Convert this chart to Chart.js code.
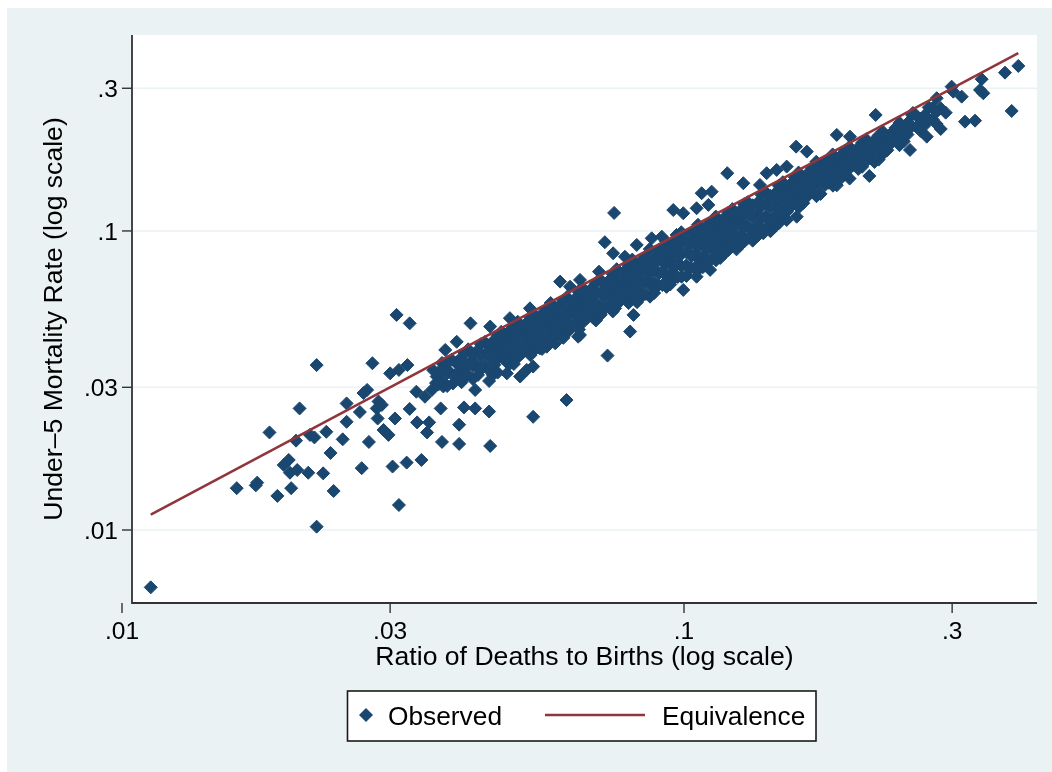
<!DOCTYPE html>
<html><head><meta charset="utf-8">
<script src="https://cdn.jsdelivr.net/npm/chart.js@4.4.1/dist/chart.umd.min.js"></script>
<style>html,body{margin:0;padding:0;background:#fff}#wrap{width:1052px;height:772px}</style>
</head><body><div id="wrap"><canvas id="c" width="1052" height="772"></canvas></div>
<script>
// ---- axis ticks ----
const xTickValues = [0.01, 0.03, 0.1, 0.3];
const xTickLabels = ['.01', '.03', '.1', '.3'];
const yTickValues = [0.01, 0.03, 0.1, 0.3];
const yTickLabels = ['.01', '.03', '.1', '.3'];
const xAxisRange = [0.010418, 0.42473];
const yAxisRange = [0.00570, 0.45212];
const xTitle = 'Ratio of Deaths to Births (log scale)';
const yTitle = 'Under\u20135 Mortality Rate (log scale)';
const legendLabels = ['Observed', 'Equivalence'];

// ---- observed points [ratio of deaths to births, under-5 mortality rate] ----
const observedLowTail = [
 [0.01125,0.00643],[0.0222,0.0356],[0.0207,0.0255],[0.0183,0.0212],[0.0204,0.0199],
 [0.0216,0.0208],[0.0220,0.0204],[0.0231,0.0213],[0.0251,0.0265],[0.0251,0.0230],
 [0.0247,0.0201],[0.0235,0.0181],[0.0198,0.01715],[0.0194,0.0165],[0.0199,0.01554],
 [0.0205,0.01587],[0.02145,0.01554],[0.0228,0.01547],[0.0174,0.0144],[0.0173,0.0141],
 [0.0160,0.0138],[0.0189,0.0130],[0.0200,0.0138],[0.0238,0.0135],[0.0222,0.01026],
 [0.0308,0.0524],[0.0325,0.0491],[0.0279,0.0361],[0.0300,0.0334],[0.0311,0.0343],
 [0.0322,0.0356],[0.0273,0.0294],[0.0269,0.0287],[0.0265,0.0248],
 [0.0286,0.0269],[0.0284,0.0255],[0.0290,0.0262],[0.0285,0.0236],[0.0306,0.0236],
 [0.0292,0.0216],[0.0298,0.0208],[0.0275,0.0197],[0.0325,0.0254],[0.0335,0.0229],
 [0.0352,0.0229],[0.0349,0.0212],[0.0267,0.0161],[0.0303,0.0163],[0.0321,0.0168],
 [0.0341,0.01715],[0.0334,0.0290],[0.0346,0.0279],[0.0356,0.0294],[0.0311,0.01212]
];
const observedMidOutliers = [
 [0.0369,0.0255],[0.0371,0.0197],[0.0398,0.0225],[0.0398,0.0194],[0.0406,0.0257],
 [0.0425,0.0255],[0.0450,0.0249],[0.0452,0.0191],[0.0425,0.0294],[0.0539,0.0239],
 [0.0376,0.0400],[0.0394,0.0426],[0.0363,0.0326],[0.0373,0.0302],[0.0417,0.0491],
 [0.0452,0.0479],[0.0490,0.0511],[0.0532,0.0551],[0.0434,0.0343],[0.0411,0.0352],
 [0.0394,0.0361],[0.0484,0.0334],[0.0511,0.0326],
 [0.0723,0.0917],[0.0748,0.0842],[0.0824,0.0898],[0.0876,0.0945],[0.0913,0.0957],
 [0.0970,0.0970],[0.0785,0.0820],[0.0706,0.0731],[0.0653,0.0686],[0.0602,0.0677],
 [0.0627,0.0651],[0.0754,0.0551],[0.0813,0.0524],[0.0802,0.0461],
 [0.0653,0.0449],[0.0648,0.0443],[0.0731,0.0383],[0.0618,0.0272],[0.0539,0.0352],
 [0.0525,0.0343],[0.0870,0.0603],[0.0829,0.0588],[0.0932,0.0651],[0.0957,0.0695],
 [0.0690,0.0511],[0.0590,0.0421],[0.0554,0.0405],[0.0751,0.1149]
];
const observedBand = [
 [0.0358,0.0342],[0.0362,0.0310],
 [0.0371,0.0362],[0.0375,0.0347],[0.0372,0.0313],
 [0.0386,0.0371],[0.0384,0.0336],[0.0388,0.0309],
 [0.0401,0.0376],[0.0398,0.0340],[0.0402,0.0312],
 [0.0413,0.0402],[0.0416,0.0364],[0.0412,0.0331],
 [0.0429,0.0398],[0.0426,0.0360],[0.0430,0.0330],
 [0.0442,0.0425],[0.0445,0.0390],[0.0441,0.0354],
 [0.0459,0.0431],[0.0456,0.0394],[0.0460,0.0357],[0.0457,0.0330],
 [0.0473,0.0460],[0.0476,0.0422],[0.0472,0.0384],
 [0.0491,0.0466],[0.0488,0.0426],[0.0492,0.0387],[0.0489,0.0358],
 [0.0506,0.0497],[0.0509,0.0456],[0.0505,0.0416],[0.0508,0.0380],
 [0.0525,0.0493],[0.0522,0.0451],[0.0526,0.0409],
 [0.0541,0.0526],[0.0544,0.0482],[0.0540,0.0439],[0.0543,0.0401],
 [0.0561,0.0532],[0.0558,0.0487],[0.0562,0.0442],[0.0559,0.0403],
 [0.0579,0.0574],[0.0582,0.0522],[0.0578,0.0476],[0.0581,0.0435],
 [0.0601,0.0564],[0.0598,0.0516],[0.0602,0.0468],
 [0.0619,0.0601],[0.0622,0.0546],[0.0618,0.0496],[0.0621,0.0459],
 [0.0641,0.0595],[0.0638,0.0544],[0.0642,0.0493],
 [0.0659,0.0647],[0.0662,0.0587],[0.0658,0.0535],[0.0661,0.0495],
 [0.0686,0.0644],[0.0683,0.0589],[0.0687,0.0534],
 [0.0709,0.0689],[0.0712,0.0625],[0.0708,0.0568],[0.0711,0.0525],
 [0.0736,0.0684],[0.0733,0.0625],[0.0737,0.0566],
 [0.0759,0.0745],[0.0762,0.0676],[0.0758,0.0616],[0.0761,0.0570],
 [0.0786,0.0738],[0.0783,0.0675],[0.0787,0.0612],
 [0.0809,0.0802],[0.0812,0.0729],[0.0808,0.0664],[0.0811,0.0608],
 [0.0841,0.0798],[0.0838,0.0731],[0.0842,0.0664],[0.0839,0.0605],
 [0.0869,0.0870],[0.0872,0.0792],[0.0868,0.0722],[0.0871,0.0661],
 [0.0901,0.0864],[0.0898,0.0792],[0.0902,0.0720],[0.0899,0.0657],
 [0.0929,0.0921],[0.0932,0.0846],[0.0928,0.0772],[0.0931,0.0707],[0.0930,0.0651],
 [0.0961,0.0912],[0.0958,0.0835],[0.0962,0.0758],[0.0959,0.0691],
 [0.0989,0.0990],[0.0992,0.0911],[0.0988,0.0832],[0.0991,0.0762],[0.0990,0.0703],
 [0.1031,0.0989],[0.1028,0.0906],[0.1032,0.0824],[0.1029,0.0752],
 [0.1059,0.1049],[0.1062,0.0965],[0.1058,0.0880],[0.1061,0.0806],[0.1060,0.0742],
 [0.1101,0.1045],[0.1098,0.0957],[0.1102,0.0869],[0.1099,0.0792],
 [0.1139,0.1117],[0.1142,0.1026],[0.1138,0.0935],[0.1141,0.0855],[0.1140,0.0798],
 [0.1181,0.1109],[0.1178,0.1015],[0.1182,0.0920],[0.1179,0.0838],
 [0.1219,0.1183],[0.1222,0.1086],[0.1218,0.0988],[0.1221,0.0903],
 [0.1261,0.1172],[0.1258,0.1071],[0.1262,0.0970],[0.1259,0.0895],
 [0.1299,0.1248],[0.1302,0.1144],[0.1298,0.1040],[0.1301,0.0949],
 [0.1351,0.1242],[0.1348,0.1134],[0.1352,0.1040],[0.1349,0.0959],
 [0.1399,0.1344],[0.1402,0.1232],[0.1398,0.1120],[0.1401,0.1022],
 [0.1451,0.1334],[0.1448,0.1218],[0.1452,0.1117],[0.1449,0.1030],
 [0.1499,0.1455],[0.1502,0.1335],[0.1498,0.1215],[0.1501,0.1110],
 [0.1551,0.1442],[0.1548,0.1318],[0.1552,0.1209],
 [0.1599,0.1568],[0.1602,0.1440],[0.1598,0.1312],[0.1601,0.1200],
 [0.1661,0.1560],[0.1658,0.1428],[0.1662,0.1311],
 [0.1719,0.1703],[0.1722,0.1565],[0.1718,0.1428],[0.1721,0.1307],
 [0.1781,0.1691],[0.1778,0.1549],[0.1782,0.1424],
 [0.1839,0.1803],[0.1842,0.1656],[0.1838,0.1527],[0.1841,0.1417],
 [0.1901,0.1786],[0.1898,0.1634],[0.1902,0.1501],
 [0.1969,0.1911],[0.1972,0.1753],[0.1968,0.1615],[0.1971,0.1497],
 [0.2041,0.1897],[0.2038,0.1754],[0.2042,0.1612],
 [0.2109,0.2026],[0.2112,0.1857],[0.2108,0.1709],
 [0.2181,0.2006],[0.2178,0.1853],[0.2182,0.1700],
 [0.2259,0.2147],[0.2262,0.1966],[0.2258,0.1808],
 [0.2341,0.2129],[0.2338,0.1966],
 [0.2419,0.2299],[0.2422,0.2105],[0.2418,0.1936],
 [0.2501,0.2300],[0.2498,0.2100],
 [0.2589,0.2435],[0.2592,0.2227],
 [0.2681,0.2439],[0.2678,0.2251],
 [0.2769,0.2576],[0.2772,0.2355],
 [0.2861,0.2574]
];
const observedBandInner = [
 [0.0366,0.0337],[0.0366,0.0307],
 [0.0379,0.0364],[0.0379,0.0334],[0.0379,0.0303],
 [0.0393,0.0362],[0.0393,0.0330],
 [0.0407,0.0391],[0.0407,0.0358],[0.0407,0.0326],
 [0.0421,0.0387],[0.0421,0.0354],[0.0421,0.0320],
 [0.0435,0.0418],[0.0435,0.0383],[0.0435,0.0348],
 [0.0450,0.0414],[0.0450,0.0378],[0.0450,0.0342],[0.0450,0.0315],
 [0.0466,0.0447],[0.0466,0.0410],[0.0466,0.0373],[0.0466,0.0336],
 [0.0482,0.0443],[0.0482,0.0405],[0.0482,0.0366],
 [0.0498,0.0478],[0.0498,0.0438],[0.0498,0.0398],[0.0498,0.0359],
 [0.0515,0.0474],[0.0515,0.0433],[0.0515,0.0391],
 [0.0533,0.0512],[0.0533,0.0469],[0.0533,0.0426],[0.0533,0.0384],
 [0.0551,0.0507],[0.0551,0.0463],[0.0551,0.0419],
 [0.0570,0.0547],[0.0570,0.0502],[0.0570,0.0456],[0.0570,0.0410],
 [0.0590,0.0543],[0.0590,0.0496],[0.0590,0.0448],
 [0.0610,0.0586],[0.0610,0.0537],[0.0610,0.0488],[0.0610,0.0439],
 [0.0630,0.0580],[0.0630,0.0529],[0.0630,0.0479],
 [0.0650,0.0624],[0.0650,0.0572],[0.0650,0.0520],[0.0650,0.0468],
 [0.0672,0.0618],[0.0672,0.0564],[0.0672,0.0511],
 [0.0697,0.0669],[0.0697,0.0613],[0.0697,0.0558],[0.0697,0.0502],
 [0.0722,0.0664],[0.0722,0.0606],[0.0722,0.0549],
 [0.0747,0.0717],[0.0747,0.0657],[0.0747,0.0598],[0.0747,0.0538],
 [0.0772,0.0710],[0.0772,0.0648],[0.0772,0.0587],
 [0.0797,0.0765],[0.0797,0.0701],[0.0797,0.0638],[0.0797,0.0574],
 [0.0825,0.0759],[0.0825,0.0693],[0.0825,0.0627],[0.0825,0.0578],
 [0.0855,0.0821],[0.0855,0.0752],[0.0855,0.0684],[0.0855,0.0616],
 [0.0885,0.0814],[0.0885,0.0743],[0.0885,0.0673],[0.0885,0.0620],
 [0.0915,0.0878],[0.0915,0.0805],[0.0915,0.0732],[0.0915,0.0659],
 [0.0945,0.0869],[0.0945,0.0794],[0.0945,0.0718],[0.0945,0.0662],
 [0.0975,0.0936],[0.0975,0.0858],[0.0975,0.0780],[0.0975,0.0702],
 [0.1010,0.0929],[0.1010,0.0848],[0.1010,0.0768],[0.1010,0.0707],
 [0.1045,0.1003],[0.1045,0.0920],[0.1045,0.0836],[0.1045,0.0752],
 [0.1080,0.0994],[0.1080,0.0907],[0.1080,0.0821],[0.1080,0.0756],
 [0.1120,0.1075],[0.1120,0.0986],[0.1120,0.0896],[0.1120,0.0806],
 [0.1160,0.1067],[0.1160,0.0974],[0.1160,0.0882],[0.1160,0.0812],
 [0.1200,0.1152],[0.1200,0.1056],[0.1200,0.0960],[0.1200,0.0864],
 [0.1240,0.1141],[0.1240,0.1042],[0.1240,0.0942],[0.1240,0.0868],
 [0.1280,0.1229],[0.1280,0.1126],[0.1280,0.1024],[0.1280,0.0922],
 [0.1325,0.1219],[0.1325,0.1113],[0.1325,0.1007],[0.1325,0.0928],
 [0.1375,0.1320],[0.1375,0.1210],[0.1375,0.1100],[0.1375,0.0990],
 [0.1425,0.1311],[0.1425,0.1197],[0.1425,0.1083],[0.1425,0.0998],
 [0.1475,0.1416],[0.1475,0.1298],[0.1475,0.1180],[0.1475,0.1062],
 [0.1525,0.1403],[0.1525,0.1281],[0.1525,0.1159],
 [0.1575,0.1512],[0.1575,0.1386],[0.1575,0.1260],
 [0.1630,0.1500],[0.1630,0.1369],[0.1630,0.1239],
 [0.1690,0.1622],[0.1690,0.1487],[0.1690,0.1352],
 [0.1750,0.1610],[0.1750,0.1470],[0.1750,0.1330],
 [0.1810,0.1738],[0.1810,0.1593],[0.1810,0.1448],
 [0.1870,0.1720],[0.1870,0.1571],[0.1870,0.1421],
 [0.1935,0.1858],[0.1935,0.1703],[0.1935,0.1548],
 [0.2005,0.1825],[0.2005,0.1664],
 [0.2075,0.1971],[0.2075,0.1805],[0.2075,0.1639],
 [0.2145,0.1931],[0.2145,0.1759],
 [0.2220,0.2087],[0.2220,0.1909],[0.2220,0.1732],
 [0.2300,0.2047],[0.2300,0.1863],
 [0.2380,0.2213],[0.2380,0.2023],
 [0.2460,0.2189],[0.2460,0.1993],
 [0.2545,0.2443],[0.2545,0.2240],
 [0.2635,0.2372],[0.2635,0.2161],
 [0.2725,0.2589],[0.2725,0.2371],
 [0.2815,0.2505],[0.2815,0.2280]
];
const observedHighOutliers = [
 [0.1194,0.156],[0.1275,0.1444],[0.1120,0.1353],[0.1075,0.1337],[0.1365,0.1425],
 [0.1403,0.156],[0.1462,0.160],[0.1523,0.1641],[0.0957,0.1175],[0.0997,0.1146],
 [0.1053,0.1191],[0.1105,0.1222],[0.1053,0.0703],[0.0997,0.0635],[0.1159,0.0842],
 [0.1113,0.0741],[0.1384,0.0982],[0.1523,0.1088],[0.1587,0.1116],[0.2193,0.2443],
 [0.1583,0.1914],[0.1654,0.1842],[0.1870,0.2095],[0.1974,0.2067],[0.2137,0.1527],
 [0.2555,0.2481],[0.3934,0.3563],[0.3725,0.3384],[0.3829,0.2519],
 [0.3386,0.3217],[0.3363,0.2962],[0.3409,0.2887],[0.2994,0.3038],[0.3014,0.2923],
 [0.3120,0.2813],[0.2816,0.2779],[0.2922,0.2487],[0.3162,0.2320],[0.3295,0.2338],
 [0.2863,0.2193],[0.2704,0.2067],[0.2524,0.1866]
];

const observed = [...observedLowTail, ...observedMidOutliers, ...observedBand, ...observedBandInner, ...observedHighOutliers]
  .map(([x, y]) => ({x, y}));
const xsAll = observed.map(p => p.x);
const eqMin = Math.min(...xsAll), eqMax = Math.max(...xsAll);
const equivalence = [{x: eqMin, y: eqMin}, {x: eqMax, y: eqMax}];

const NAVY = '#1a476f', MAROON = '#90353b', BG = '#eaf2f3', FONT = '"Liberation Sans", Arial, Helvetica, sans-serif';

function diamond(ctx, x, y, r) {
  ctx.beginPath(); ctx.moveTo(x - r, y); ctx.lineTo(x, y - r); ctx.lineTo(x + r, y); ctx.lineTo(x, y + r); ctx.closePath(); ctx.fill();
}

const stataFrame = {
  id: 'stataFrame',
  beforeDraw(chart) {
    const {ctx, chartArea: a, width: W, height: H} = chart;
    const ys = chart.scales.y;
    ctx.save();
    ctx.fillStyle = '#fff'; ctx.fillRect(0, 0, W, H);
    ctx.fillStyle = BG; ctx.fillRect(7, 8, W - 7, H - 8);
    ctx.fillStyle = '#fff'; ctx.fillRect(a.left, a.top, a.right - a.left, a.bottom - a.top);
    ctx.strokeStyle = BG; ctx.lineWidth = 1.6;
    yTickValues.forEach(v => {
      const p = ys.getPixelForValue(v);
      ctx.beginPath(); ctx.moveTo(a.left, p); ctx.lineTo(a.right, p); ctx.stroke();
    });
    ctx.restore();
  },
  afterDraw(chart) {
    const {ctx, chartArea: a} = chart;
    const xs = chart.scales.x, ys = chart.scales.y;
    ctx.save();
    ctx.strokeStyle = '#333'; ctx.lineWidth = 1.8;
    ctx.beginPath(); ctx.moveTo(a.left, a.top); ctx.lineTo(a.left, a.bottom); ctx.lineTo(a.right, a.bottom); ctx.stroke();
    ctx.lineWidth = 1.4;
    ctx.fillStyle = '#000';
    ctx.font = '24.5px ' + FONT;
    ctx.textAlign = 'right'; ctx.textBaseline = 'alphabetic';
    yTickValues.forEach((v, i) => {
      const p = ys.getPixelForValue(v);
      ctx.beginPath(); ctx.moveTo(a.left - 10, p); ctx.lineTo(a.left, p); ctx.stroke();
      ctx.fillText(yTickLabels[i], a.left - 14, p + 9);
    });
    ctx.textAlign = 'center';
    xTickValues.forEach((v, i) => {
      const p = xs.getPixelForValue(v);
      ctx.beginPath(); ctx.moveTo(p, a.bottom); ctx.lineTo(p, a.bottom + 10); ctx.stroke();
      ctx.fillText(xTickLabels[i], p, a.bottom + 35.5);
    });
    ctx.font = '26.6px ' + FONT;
    ctx.fillText(xTitle, (a.left + a.right) / 2, a.bottom + 62);
    ctx.save();
    ctx.translate(62, (a.top + a.bottom) / 2);
    ctx.rotate(-Math.PI / 2);
    ctx.fillText(yTitle, 0, 0);
    ctx.restore();
    // legend
    const L = 347.5, T = 691, R = 816, B = 741, my = 715;
    ctx.fillStyle = '#fff'; ctx.fillRect(L, T, R - L, B - T);
    ctx.strokeStyle = '#1a1a1a'; ctx.lineWidth = 1.6; ctx.strokeRect(L, T, R - L, B - T);
    ctx.fillStyle = NAVY; diamond(ctx, 366, my, 7);
    ctx.strokeStyle = MAROON; ctx.lineWidth = 2.5;
    ctx.beginPath(); ctx.moveTo(545, my); ctx.lineTo(645, my); ctx.stroke();
    ctx.fillStyle = '#000'; ctx.textAlign = 'left'; ctx.font = '26.3px ' + FONT;
    ctx.fillText(legendLabels[0], 388, 725);
    ctx.fillText(legendLabels[1], 662, 725);
    ctx.restore();
  }
};

new Chart(document.getElementById('c'), {
  type: 'scatter',
  data: {datasets: [
    {label: legendLabels[1], type: 'line', data: equivalence, borderColor: MAROON, borderWidth: 2.5,
     pointRadius: 0, fill: false, order: 0, tension: 0},
    {label: legendLabels[0], data: observed, pointStyle: 'rectRot', pointRadius: 6.5, pointHoverRadius: 6.5,
     backgroundColor: NAVY, borderColor: NAVY, borderWidth: 1, order: 1}
  ]},
  options: {
    responsive: false, animation: false, devicePixelRatio: 1, events: [],
    layout: {padding: {left: 132, right: 15, top: 35, bottom: 169}},
    plugins: {legend: {display: false}, tooltip: {enabled: false}},
    scales: {
      x: {type: 'logarithmic', min: xAxisRange[0], max: xAxisRange[1], display: false},
      y: {type: 'logarithmic', min: yAxisRange[0], max: yAxisRange[1], display: false}
    }
  },
  plugins: [stataFrame]
});
</script></body></html>
